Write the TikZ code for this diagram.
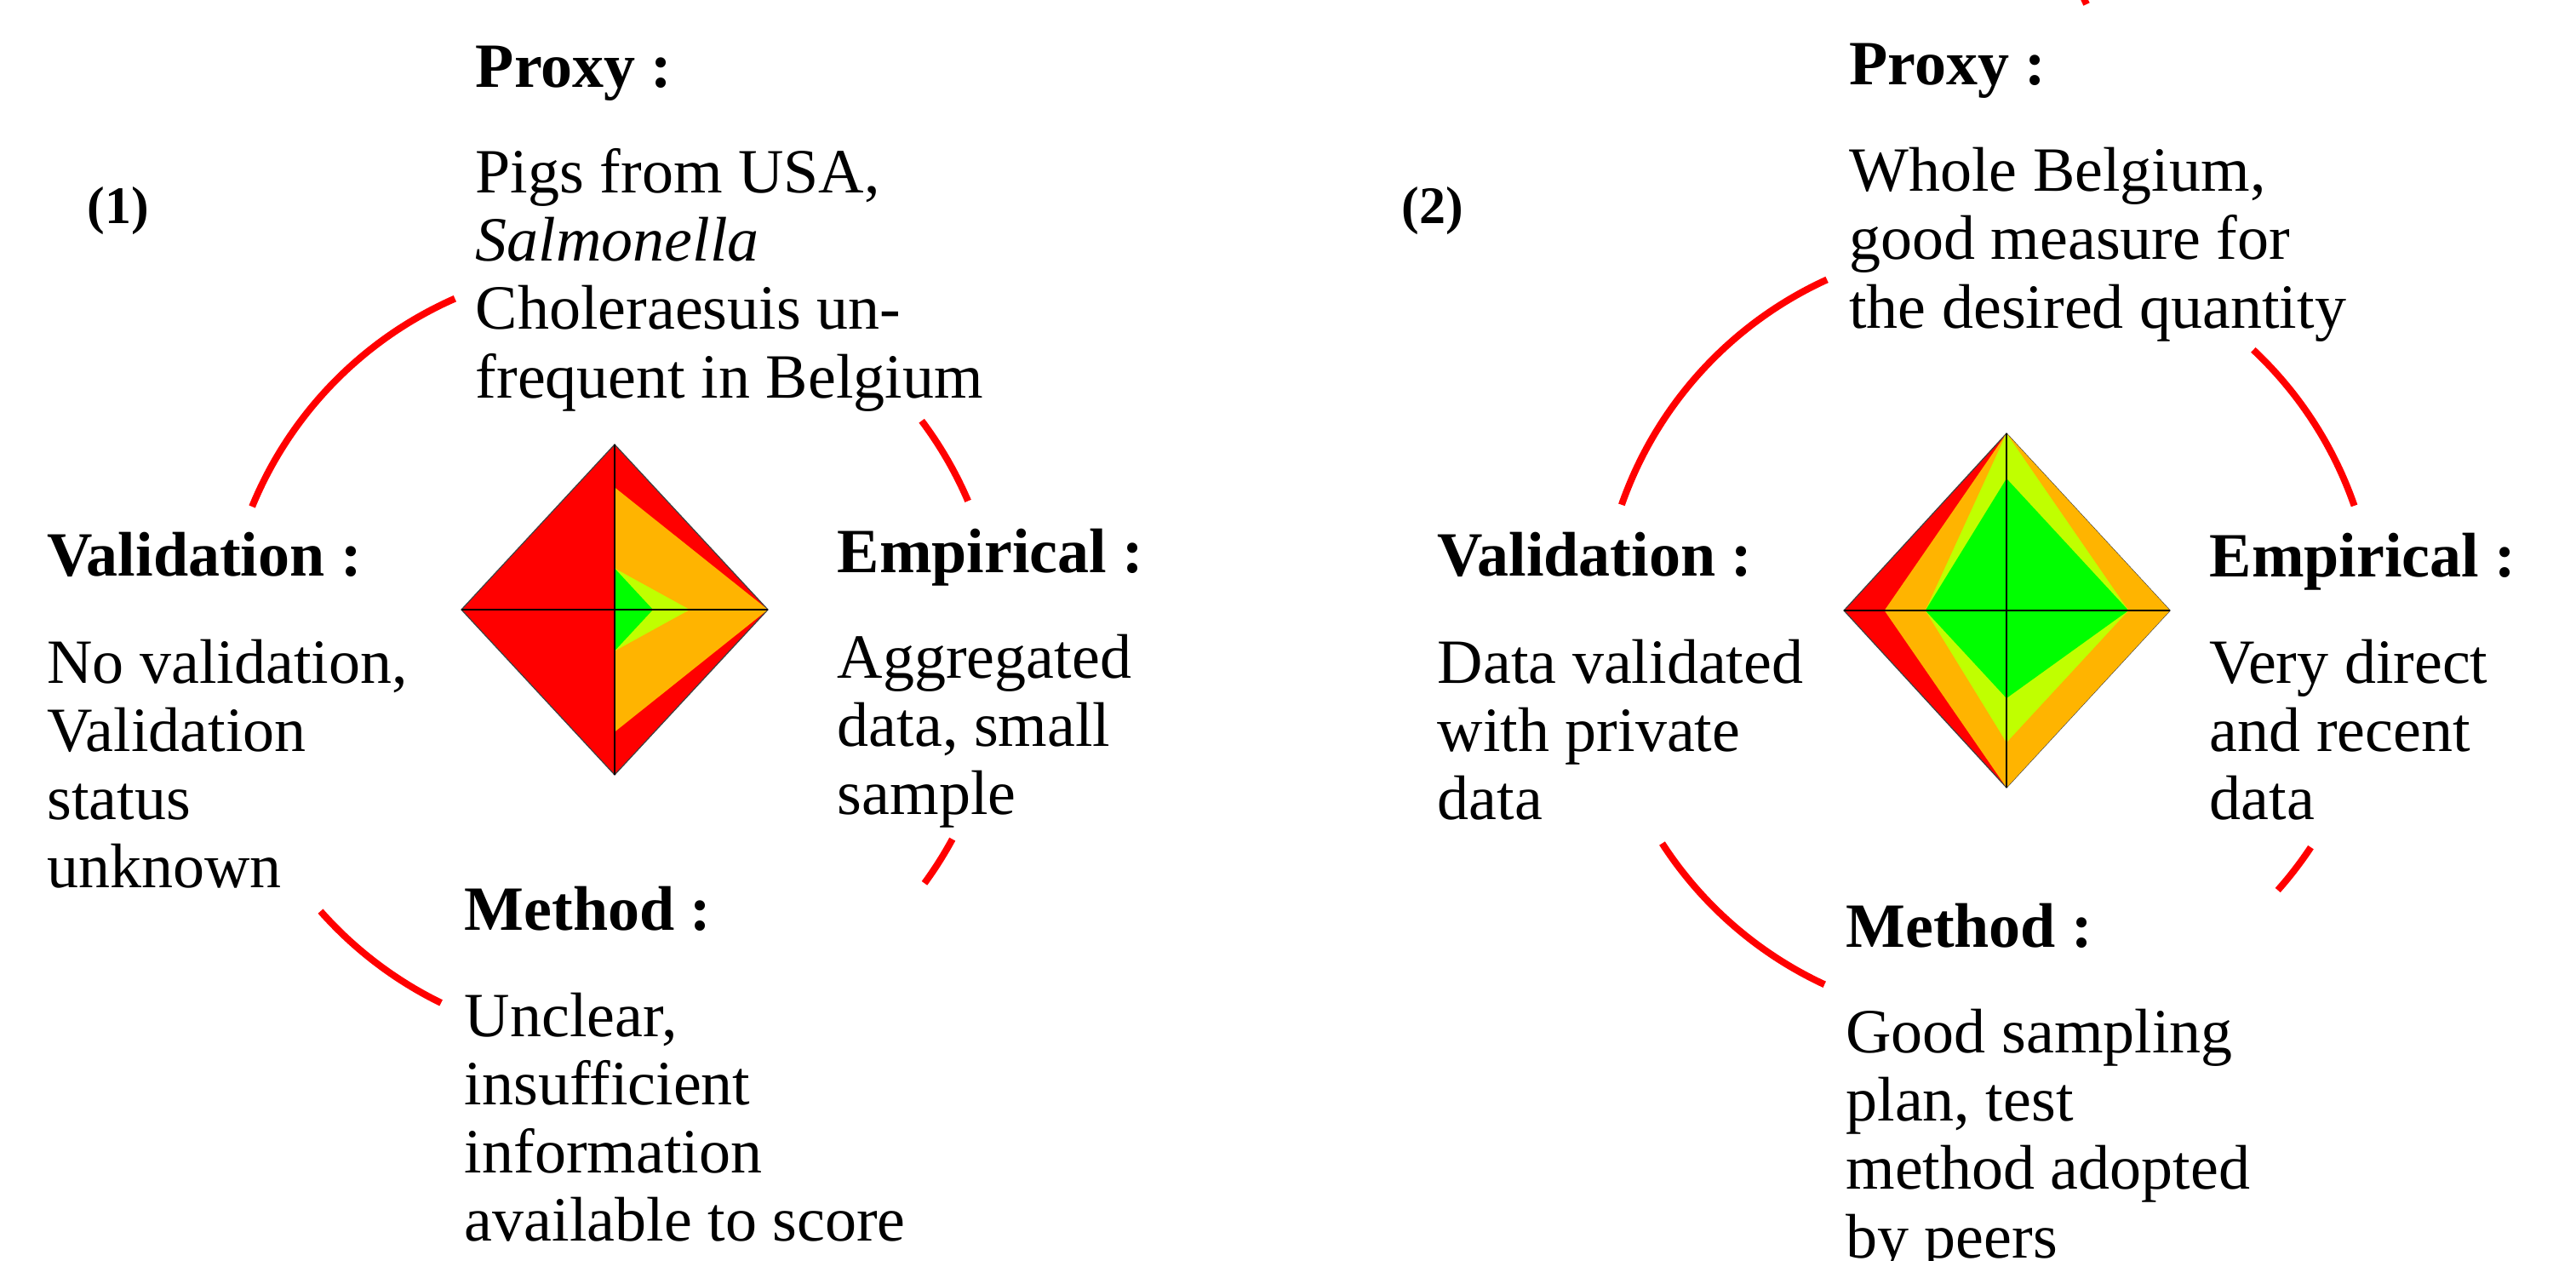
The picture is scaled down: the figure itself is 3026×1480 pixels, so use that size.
\documentclass[tikz,border=0pt]{standalone}
\usepackage{fontspec}
\setmainfont{Liberation Serif}
\definecolor{kred}{RGB}{255,0,0}
\definecolor{korange}{RGB}{255,180,0}
\definecolor{kyellow}{RGB}{192,255,0}
\definecolor{kgreen}{RGB}{0,255,0}
\newcommand{\tblock}[1]{\vtop{\halign{##\hfil\cr#1\crcr}}}
\begin{document}
\begin{tikzpicture}[x=0.25pt,y=-0.25pt,
  txt/.style={anchor=base west, inner sep=0pt, font=\fontsize{18.5}{20.05}\selectfont},
  head/.style={anchor=base west, inner sep=0pt, font=\fontsize{18.5}{20.05}\selectfont\bfseries},
  lab/.style={anchor=base west, inner sep=0pt, font=\fontsize{15.5}{18}\selectfont\bfseries},
  ring/.style={draw=kred, line width=2pt},
  axisline/.style={draw=black, line width=0.45pt},
  kiteedge/.style={draw=black!75, line width=0.3pt}]
\fill[white] (0,0) rectangle (3026,1480);
\useasboundingbox (0,0) rectangle (3026,1480);

% ---------------- Panel (1) ----------------
\node[lab] (n1) at (102,262) {(1)};
\node[head] (p1h) at (558,102) {Proxy :};
\node[txt] (p1b) at (558,226.5) {\tblock{Pigs from USA,\cr \textit{Salmonella}\cr Choleraesuis un-\cr frequent in Belgium}};
\node[head] (v1h) at (54.5,676) {Validation :};
\node[txt] (v1b) at (54.5,802) {\tblock{No validation,\cr Validation\cr status\cr unknown}};
\node[head] (e1h) at (983,672) {Empirical :};
\node[txt] (e1b) at (983,796) {\tblock{Aggregated\cr data, small\cr sample}};
\node[head] (m1h) at (545,1092) {Method :};
\node[txt] (m1b) at (545,1217) {\tblock{Unclear,\cr insufficient\cr information\cr available to score}};

% kite 1
\coordinate (k1c) at (722,716);
\coordinate (k1t) at (722,522);
\coordinate (k1r) at (902,716);
\coordinate (k1b) at (722,910);
\coordinate (k1l) at (542,716);
\draw[kiteedge, fill=kred] (k1t) -- (k1r) -- (k1b) -- (k1l) -- cycle;
\fill[korange] (722,572.4) -- (k1r) -- (722,859.6) -- (k1c) -- cycle;
\fill[kyellow] (722,667.5) -- (810.2,716) -- (722,764.5) -- (k1c) -- cycle;
\fill[kgreen] (722,667.5) -- (767,716) -- (722,764.5) -- (k1c) -- cycle;
\draw[axisline] (k1l) -- (k1r);
\draw[axisline] (k1t) -- (k1b);

% ring 1
\coordinate (c1) at (718,768);
\draw[ring] (c1) ++(113.75:114pt) arc[start angle=113.75, end angle=157.7, radius=114pt];
\draw[ring] (c1) ++(36.9:114pt) arc[start angle=36.9, end angle=23.2, radius=114pt];
\draw[ring] (c1) ++(-28.5:114pt) arc[start angle=-28.5, end angle=-36.2, radius=114pt];
\draw[ring] (c1) ++(-138.5:114pt) arc[start angle=-138.5, end angle=-116, radius=114pt];

% ---------------- Panel (2) ----------------
\node[lab] (n2) at (1646,262) {(2)};
\node[head] (p2h) at (2171.5,99) {Proxy :};
\node[txt] (p2b) at (2171.5,224.6) {\tblock{Whole Belgium,\cr good measure for\cr the desired quantity}};
\node[head] (v2h) at (1688,676.7) {Validation :};
\node[txt] (v2b) at (1688,802) {\tblock{Data validated\cr with private\cr data}};
\node[head] (e2h) at (2595,677) {Empirical :};
\node[txt] (e2b) at (2595,802) {\tblock{Very direct\cr and recent\cr data}};
\node[head] (m2h) at (2167.6,1112) {Method :};
\node[txt] (m2b) at (2167.6,1236.4) {\tblock{Good sampling\cr plan, test\cr method adopted\cr by peers}};

% kite 2
\coordinate (k2c) at (2357,717);
\coordinate (k2t) at (2357,509);
\coordinate (k2r) at (2549,717);
\coordinate (k2b) at (2357,925);
\coordinate (k2l) at (2166,717);
\draw[kiteedge, fill=kred] (k2t) -- (k2r) -- (k2b) -- (k2l) -- cycle;
\fill[korange] (k2t) -- (k2r) -- (k2b) -- (2213.6,717) -- cycle;
\fill[kyellow] (k2t) -- (2500.3,717) -- (2357,872) -- (2261.7,717) -- cycle;
\fill[kgreen] (2357,562) -- (2500.3,717) -- (2357,820) -- (2261.7,717) -- cycle;
\draw[axisline] (k2l) -- (k2r);
\draw[axisline] (k2t) -- (k2b);

% ring 2
\coordinate (c2) at (2335,743);
\draw[ring] (c2) ++(114.5:113.9pt) arc[start angle=114.5, end angle=160.75, radius=113.9pt];
\draw[ring] (c2) ++(46.8:113.9pt) arc[start angle=46.8, end angle=19.1, radius=113.9pt];
\draw[ring] (c2) ++(-33.6:113.9pt) arc[start angle=-33.6, end angle=-41.6, radius=113.9pt];
\draw[ring] (c2) ++(-147.1:113.9pt) arc[start angle=-147.1, end angle=-114.9, radius=113.9pt];

% stray ring end at the top edge
\coordinate (s1) at (2444,-10);
\coordinate (s2) at (2451,5);
\draw[ring] (s1) -- (s2);
\end{tikzpicture}
\end{document}
